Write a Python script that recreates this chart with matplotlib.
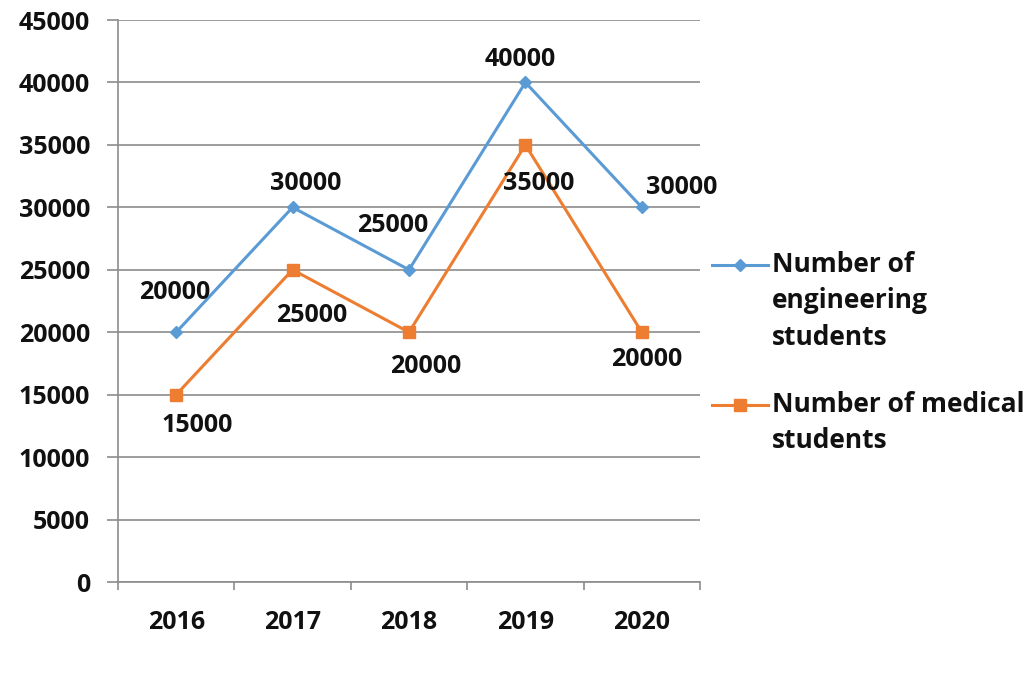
import numpy as np
import matplotlib
matplotlib.use("Agg")
from matplotlib import pyplot as plt
from matplotlib.lines import Line2D

## data
years = ["2016", "2017", "2018", "2019", "2020"]
engineering = [20000, 30000, 25000, 40000, 30000]
medical = [15000, 25000, 20000, 35000, 20000]
yticks = [0, 5000, 10000, 15000, 20000, 25000, 30000, 35000, 40000, 45000]

# label offsets in pixels (dx, dy)
eng_off = [(-2, 40), (13, 24), (-16, 44), (-5, 23), (40, 20)]
med_off = [(21, -31), (19, -46), (17, -34), (13, -39), (5, -27)]

blue = "#5B9BD5"
orange = "#ED7D31"
grid_c = "#8C8C8C"

plt.rcParams['font.family'] = ['Open Sans', 'DejaVu Sans']
plt.rcParams['font.weight'] = 'bold'

fig = plt.figure(figsize=(10.34, 6.89), dpi=100)
ax = fig.add_axes([118/1034, 1-582/689, 582/1034, 562/689])

x = np.arange(len(years))
ax.plot(x, engineering, color=blue, lw=2.2, marker='D', ms=6, zorder=3)
ax.plot(x, medical, color=orange, lw=2.2, marker='s', ms=8, zorder=3)

for i in range(len(years)):
    ax.annotate(str(engineering[i]), (x[i], engineering[i]), xytext=eng_off[i],
                textcoords='offset pixels', ha='center', va='center',
                fontsize=18, fontweight='bold', color='#111111')
    ax.annotate(str(medical[i]), (x[i], medical[i]), xytext=med_off[i],
                textcoords='offset pixels', ha='center', va='center',
                fontsize=18, fontweight='bold', color='#111111')

ax.set_xlim(-0.5, len(years)-0.5)
ax.set_ylim(0, 45000)
ax.set_yticks(yticks)
ax.set_yticklabels([str(v) for v in yticks])
ax.set_xticks(x)
ax.set_xticklabels(years)
ax.set_xticks(np.arange(-0.5, len(years)), minor=True)
ax.grid(axis='y', color=grid_c, lw=1.2)
ax.set_axisbelow(True)

for s in ['top', 'right']:
    ax.spines[s].set_visible(False)
for s in ['left', 'bottom']:
    ax.spines[s].set_color(grid_c)
    ax.spines[s].set_linewidth(1.2)

ax.tick_params(axis='y', length=8, width=1.2, color=grid_c, pad=12, labelsize=18)
ax.tick_params(axis='x', which='major', length=0, pad=20, labelsize=18)
ax.tick_params(axis='x', which='minor', length=6, width=1.2, color=grid_c)
for t in ax.get_xticklabels() + ax.get_yticklabels():
    t.set_fontweight('bold')
    t.set_color('#111111')

## legend, drawn by hand so handle sits with first line
leg = [(blue, 'D', 6, "Number of\nengineering\nstudents", 265),
       (orange, 's', 8, "Number of medical\nstudents", 405)]
for c, m, ms, txt, ytop in leg:
    yf = 1 - ytop/689
    fig.add_artist(Line2D([712/1034, 768/1034], [yf, yf], color=c, lw=2.2,
                          transform=fig.transFigure))
    fig.add_artist(Line2D([740/1034], [yf], color=c, marker=m, ms=ms,
                          transform=fig.transFigure))
    fig.text(772/1034, yf + 14/689, txt, ha='left', va='top', fontsize=19,
             fontweight='bold', color='#111111', linespacing=1.45)

fig.savefig("out.png", dpi=100)
